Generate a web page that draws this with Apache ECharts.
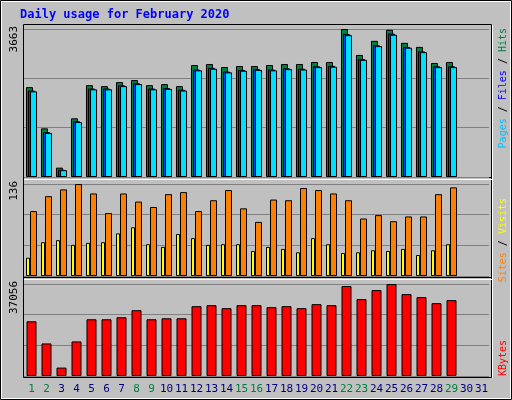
<!DOCTYPE html>
<html><head><meta charset="utf-8">
<script src="https://cdn.jsdelivr.net/npm/echarts@6/dist/echarts.min.js"></script>
<style>html,body{margin:0;padding:0;background:#c0c0c0}#c{width:512px;height:400px}</style>
</head><body><div id="c"></div>
<script>
const days = Array.from({length:31},(_,i)=>String(i+1));
const weekend = ['1','2','8','9','15','16','22','23','29'];
const hits = [2224,1204,232,1453,2274,2249,2349,2399,2274,2299,2249,2772,2797,2722,2747,2747,2772,2797,2797,2847,2847,3663,3021,3370,3644,3320,3220,2822,2847];
const files = [2140,1110,180,1380,2190,2190,2270,2320,2190,2200,2160,2660,2700,2610,2650,2670,2660,2690,2680,2740,2750,3540,2920,3260,3550,3220,3110,2740,2740];
const pages = [2120,1090,170,1360,2170,2170,2250,2300,2170,2180,2140,2640,2680,2590,2630,2650,2640,2670,2660,2720,2730,3510,2900,3240,3520,3200,3090,2720,2720];
const sites = [96,118,128,136,122,93,122,110,102,121,124,96,112,127,100,80,113,112,130,127,122,112,85,90,81,88,88,121,131];
const visits = [27,50,53,46,49,50,63,72,47,43,62,56,46,47,47,37,43,40,35,56,47,34,35,38,37,40,31,38,47];
const kbytes = [22038,13114,3380,13926,22849,22849,23660,26499,22849,23254,23254,28122,28527,27310,28527,28527,27716,28122,27310,28933,28527,36234,30961,34611,37056,32989,31772,29338,30555];
const maxHits = 3663, maxSites = 136, maxKB = 37056;

const mono = 'DejaVu Sans Mono';
const L = 24, W = 465;
const grids = [{left:L,width:W,top:29,height:148},{left:L,width:W,top:184,height:92},{left:L,width:W,top:284,height:92}];
const bs = {borderColor:'#000',borderWidth:1};
function xa(i,show){return {type:'category',data:days,gridIndex:i,axisLine:{show:false},axisTick:{show:false},
  axisLabel:{show:show,interval:0,fontFamily:mono,fontSize:11,margin:8,color:v=>weekend.includes(v)?'#008040':'#000080'}};}
function ya(i,max){return {type:'value',gridIndex:i,min:0,max:max,interval:max/3,axisLabel:{show:false},axisLine:{show:false},axisTick:{show:false},splitLine:{lineStyle:{color:'#808080',width:1}}};}
function vt(x,y,parts,fs){return {type:'text',x:x,y:y,rotation:Math.PI/2,style:{text:parts.map(p=>'{'+p[1]+'|'+p[0]+'}').join(''),
  rich:Object.fromEntries(parts.map(p=>[p[1],{fill:p[2],fontFamily:mono,fontSize:fs||11}])),align:'right',verticalAlign:'middle'}};}
const chart = echarts.init(document.getElementById('c'));
chart.setOption({
  animation:false, backgroundColor:'#c0c0c0',
  grid:grids,
  xAxis:[xa(0,false),xa(1,false),xa(2,true)],
  yAxis:[ya(0,maxHits),ya(1,maxSites),ya(2,maxKB)],
  series:[
    {type:'bar',data:hits,xAxisIndex:0,yAxisIndex:0,barWidth:7,barGap:'-71%',itemStyle:{color:'#008040',...bs}},
    {type:'bar',data:files,xAxisIndex:0,yAxisIndex:0,barWidth:7,barGap:'-71%',itemStyle:{color:'#0040ff',...bs}},
    {type:'bar',data:pages,xAxisIndex:0,yAxisIndex:0,barWidth:7,barGap:'-71%',itemStyle:{color:'#00e0ff',...bs}},
    {type:'bar',data:visits,xAxisIndex:1,yAxisIndex:1,barWidth:4,barGap:'0%',itemStyle:{color:'#ffff00',...bs}},
    {type:'bar',data:sites,xAxisIndex:1,yAxisIndex:1,barWidth:7,barGap:'0%',itemStyle:{color:'#ff8000',...bs}},
    {type:'bar',data:kbytes,xAxisIndex:2,yAxisIndex:2,barWidth:10,itemStyle:{color:'#ff0000',...bs}}
  ],
  graphic:[
    {type:'rect',shape:{x:0.5,y:0.5,width:511,height:399},style:{fill:'none',stroke:'#000',lineWidth:1}},
    {type:'rect',shape:{x:1.5,y:1.5,width:509,height:397},style:{fill:'none',stroke:'#fff',lineWidth:1}},
    {type:'rect',shape:{x:23.5,y:24.5,width:468,height:353},style:{fill:'none',stroke:'#000',lineWidth:1}},
    {type:'line',shape:{x1:492.5,y1:25,x2:492.5,y2:378},style:{stroke:'#fff',lineWidth:1}},
    {type:'line',shape:{x1:24,y1:177.5,x2:492,y2:177.5},style:{stroke:'#000',lineWidth:1}},
    {type:'line',shape:{x1:24,y1:179.5,x2:492,y2:179.5},style:{stroke:'#fff',lineWidth:1}},
    {type:'line',shape:{x1:24,y1:277.5,x2:492,y2:277.5},style:{stroke:'#000',lineWidth:1}},
    {type:'line',shape:{x1:24,y1:279.5,x2:492,y2:279.5},style:{stroke:'#fff',lineWidth:1}},
    {type:'text',x:20,y:9,style:{text:'Daily usage for February 2020',fill:'#0000ff',font:'bold 12px "DejaVu Sans Mono"'}},
    vt(14,26,[['3663','a','#000']]),
    vt(14,181,[['136','a','#000']]),
    vt(14,281,[['37056','a','#000']]),
    vt(503,28,[['Pages','p','#00c0ff'],[' / ','s','#000'],['Files','f','#0000ff'],[' / ','t','#000'],['Hits','h','#008040']],10),
    vt(503,198,[['Sites','p','#ff8000'],[' / ','s','#000'],['Visits','v','#ffff00']],10),
    vt(503,340,[['KBytes','k','#ff0000']],10)
  ]
});
</script></body></html>
